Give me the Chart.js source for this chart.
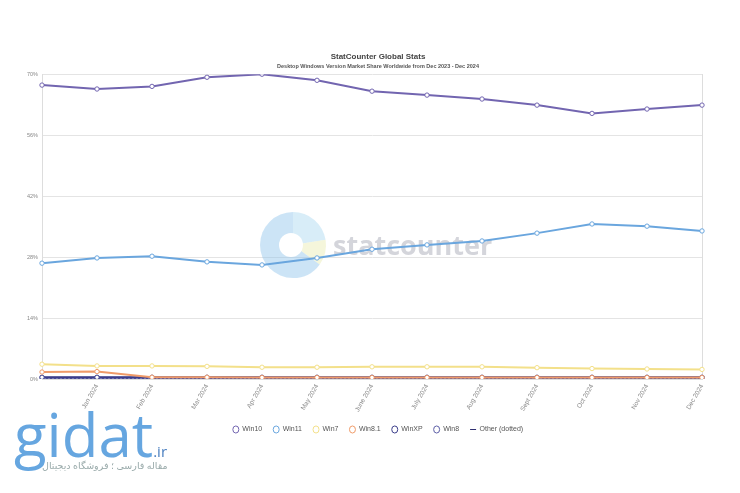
<!DOCTYPE html>
<html>
<head>
<meta charset="utf-8">
<script src="https://cdn.jsdelivr.net/npm/chart.js@4.4.0/dist/chart.umd.min.js"></script>
<style>
  html,body{margin:0;padding:0;background:#fff;}
  #wrap{position:relative;width:740px;height:493px;}
  #logo{position:absolute;left:14px;top:404px;font-family:"Open Sans","Noto Sans",sans-serif;color:#66a6e0;}
  #logo .big{font-size:60px;font-weight:400;letter-spacing:0px;line-height:60px;}
  #logo .ir{font-size:15px;color:#4a7fc0;}
  #logo .fa{position:absolute;left:28px;top:55px;font-size:9.5px;color:#9aa;white-space:nowrap;font-family:"Noto Sans","DejaVu Sans",sans-serif;direction:rtl;}
</style>
</head>
<body>
<div id="wrap">
<canvas id="c" width="740" height="493"></canvas>
<div id="logo"><span class="big">gidat</span><span class="ir">.ir</span><div class="fa">مقاله فارسی ؛ فروشگاه دیجیتال</div></div>
</div>
<script>
const categories = ["Dec 2023","Jan 2024","Feb 2024","Mar 2024","Apr 2024","May 2024","June 2024","July 2024","Aug 2024","Sept 2024","Oct 2024","Nov 2024","Dec 2024"];
const win10 = [67.5,66.6,67.2,69.3,70.0,68.6,66.1,65.2,64.3,62.9,61.0,62.0,62.9];
const win11 = [26.6,27.8,28.2,26.9,26.2,27.8,29.8,30.8,31.7,33.5,35.6,35.1,34.0];
const win7 = [3.4,3.0,3.0,2.9,2.7,2.7,2.8,2.8,2.8,2.6,2.4,2.3,2.2];
const win81 = [1.6,1.7,0.4,0.4,0.35,0.35,0.35,0.35,0.35,0.35,0.35,0.35,0.35];
const winXP = [0.4,0.4,0.4,0.4,0.4,0.4,0.4,0.4,0.4,0.4,0.4,0.4,0.4];
const win8 = [0.3,0.3,0.3,0.3,0.3,0.3,0.3,0.3,0.3,0.3,0.3,0.3,0.3];
const other = [0.15,0.15,0.15,0.15,0.15,0.15,0.15,0.15,0.15,0.15,0.15,0.15,0.15];
const yTicks = [0,14,28,42,56,70];

function ds(label, data, color, extra){
  return Object.assign({label, data, borderColor: color, backgroundColor:'#fff',
    borderWidth:2, pointRadius:2.2, pointBorderWidth:1, pointBackgroundColor:'#fff',
    pointBorderColor: color, pointStyle:'circle', tension:0}, extra||{});
}

const watermark = {
  id:'watermark',
  beforeDatasetsDraw(chart){
    const c = chart.ctx;
    c.save();
    const cx = 293, cy = 245, r = 33;
    c.globalAlpha = 0.45;
    c.fillStyle = '#8fc3ec';
    c.beginPath(); c.moveTo(cx,cy); c.arc(cx,cy,r,Math.PI*0.5,Math.PI*1.5); c.closePath(); c.fill();
    c.fillStyle = '#a8d8f0';
    c.beginPath(); c.moveTo(cx,cy); c.arc(cx,cy,r,Math.PI*1.5,Math.PI*1.95); c.closePath(); c.fill();
    c.fillStyle = '#e8ecb0';
    c.beginPath(); c.moveTo(cx,cy); c.arc(cx,cy,r,Math.PI*1.95,Math.PI*0.2); c.closePath(); c.fill();
    c.fillStyle = '#8fc3ec';
    c.beginPath(); c.moveTo(cx,cy); c.arc(cx,cy,r,Math.PI*0.2,Math.PI*0.5); c.closePath(); c.fill();
    c.globalAlpha = 1;
    c.fillStyle = '#fff';
    c.beginPath(); c.arc(cx-2,cy,12,0,Math.PI*2); c.fill();
    c.globalAlpha = 0.5;
    c.fillStyle = '#a9abb8';
    c.font = 'bold 27px "Open Sans", "DejaVu Sans", sans-serif';
    c.textBaseline = 'middle';
    c.fillText('statcounter', 333, 247);
    c.restore();
  }
};

new Chart(document.getElementById('c'), {
  type:'line',
  data:{ labels: categories, datasets:[
    ds('Win10', win10, '#7265b0'),
    ds('Win11', win11, '#6aa6de'),
    ds('Win7', win7, '#f3e08a'),
    ds('Win8.1', win81, '#ef9a68'),
    ds('WinXP', winXP, '#3b3d8a'),
    ds('Win8', win8, '#5c5ea6'),
    ds('Other (dotted)', other, '#2f2f70', {borderDash:[2,2], pointRadius:0, pointStyle:'line'})
  ]},
  options:{
    responsive:false, animation:false,
    layout:{padding:{top:52,left:16,right:0,bottom:50}},
    plugins:{
      title:{display:true, text:'StatCounter Global Stats', color:'#444',
        font:{family:'"Liberation Sans", Arial, sans-serif', size:8, weight:'bold'}, padding:{top:0,bottom:2}},
      subtitle:{display:true, text:'Desktop Windows Version Market Share Worldwide from Dec 2023 - Dec 2024', color:'#555',
        font:{family:'"Liberation Sans", Arial, sans-serif', size:5.5, weight:'bold'}, padding:{top:0,bottom:4}},
      legend:{position:'bottom', labels:{usePointStyle:true, boxWidth:5, boxHeight:5, pointStyleWidth:6, padding:11, color:'#555',
        font:{family:'"Liberation Sans", Arial, sans-serif', size:7}}},
      tooltip:{enabled:false}
    },
    scales:{
      x:{
        grid:{display:true, drawOnChartArea:false, color:'#ddd', tickLength:0},
        border:{color:'#ddd'},
        ticks:{color:'#888', minRotation:60, maxRotation:60, autoSkip:false, padding:4,
          font:{family:'"Liberation Sans", Arial, sans-serif', size:6.5},
          callback:function(v,i){ return i===0 ? '' : categories[i]; }},
        afterFit:function(s){ s.height = 36; }
      },
      y:{
        min:0, max:70,
        afterBuildTicks:function(s){ s.ticks = yTicks.map(v=>({value:v})); },
        grid:{color:'#e4e4e4', tickLength:0},
        border:{color:'#ddd'},
        ticks:{color:'#888', padding:4, font:{family:'"Liberation Sans", Arial, sans-serif', size:5.5},
          callback:function(v){ return v+'%'; }},
        afterFit:function(s){ s.width = 26; }
      },
      y2:{position:'right', display:true, min:0, max:70, grid:{display:false}, ticks:{display:false}, border:{color:'#ddd'},
        afterFit:function(s){ s.width = 38; }}
    }
  },
  plugins:[watermark]
});
</script>
</body>
</html>
